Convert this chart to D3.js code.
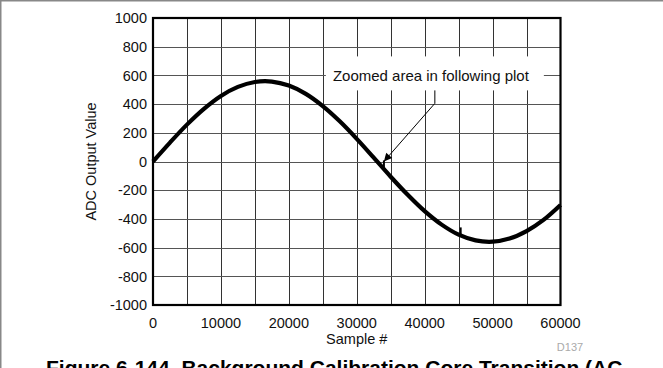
<!DOCTYPE html>
<html>
<head>
<meta charset="utf-8">
<script src="https://cdn.jsdelivr.net/npm/d3@7"></script>
<style>
  body { margin: 0; background: #fff; }
  svg { display: block; font-family: "Liberation Sans", Arial, Helvetica, sans-serif; }
</style>
</head>
<body>
<svg id="chart" width="663" height="368"></svg>
<script>
// samples, every 2500 samples
var sampleX = [0, 2500, 5000, 7500, 10000, 12500, 15000, 17500, 20000, 22500, 25000, 27500,
  30000, 32500, 35000, 37500, 40000, 42500, 45000, 47500, 50000, 52500, 55000, 57500, 60000];
var adcValue = [0, 132, 257, 367, 457, 520, 554, 557, 529, 471, 386, 280,
  158, 27, -106, -232, -346, -440, -510, -550, -559, -537, -485, -407, -303];

var xTicks = [0, 10000, 20000, 30000, 40000, 50000, 60000];
var yTicks = [-1000, -800, -600, -400, -200, 0, 200, 400, 600, 800, 1000];
var xGrid = [5000, 10000, 15000, 20000, 25000, 30000, 35000, 40000, 45000, 50000, 55000];
var yGrid = [-800, -600, -400, -200, 0, 200, 400, 600, 800];

// small markers on the trace showing the zoomed range
var zoomMarkX = [34000, 45300];
var zoomMarkY = [-55, -522];

// annotation anchor points (data units)
var noteText = 'Zoomed area in following plot';
var notePos = [41500, 600];
var noteElbow = [41500, 405];
var noteTip = [34000, 0];

var svg = d3.select('#chart');
var margin = { top: 18, right: 102.5, bottom: 63, left: 153 };
var width = 663 - margin.left - margin.right;
var height = 368 - margin.top - margin.bottom;

// page border (top and left only)
svg.append('line').attr('x1', 0).attr('x2', 663).attr('y1', 0.75).attr('y2', 0.75)
  .attr('stroke', '#888').attr('stroke-width', 1.5);
svg.append('line').attr('x1', 0.75).attr('x2', 0.75).attr('y1', 0).attr('y2', 368)
  .attr('stroke', '#888').attr('stroke-width', 1.5);

var x = d3.scaleLinear().domain([0, 60000]).range([0, width]);
var y = d3.scaleLinear().domain([-1000, 1000]).range([height, 0]);

var g = svg.append('g')
  .attr('transform', 'translate(' + margin.left + ',' + margin.top + ')');

// grid
g.selectAll('.vgrid').data(xGrid).enter().append('line')
  .attr('class', 'vgrid')
  .attr('x1', function(d) { return Math.round(x(d)) + 0.5; })
  .attr('x2', function(d) { return Math.round(x(d)) + 0.5; })
  .attr('y1', 0).attr('y2', height)
  .attr('stroke', '#333').attr('stroke-width', 1);

g.selectAll('.hgrid').data(yGrid).enter().append('line')
  .attr('class', 'hgrid')
  .attr('x1', 0).attr('x2', width)
  .attr('y1', function(d) { return Math.round(y(d)) + 0.5; })
  .attr('y2', function(d) { return Math.round(y(d)) + 0.5; })
  .attr('stroke', '#555').attr('stroke-width', 1);

// annotation box hides the grid behind the label
var nx = x(notePos[0]), ny = y(notePos[1]);
g.append('rect')
  .attr('x', nx - 109).attr('y', ny - 19)
  .attr('width', 218).attr('height', 34)
  .attr('fill', '#fff');
g.append('text')
  .attr('x', nx - 4).attr('y', ny)
  .attr('dy', '0.36em')
  .attr('text-anchor', 'middle')
  .attr('font-size', 15)
  .attr('fill', '#111')
  .text(noteText);

// trace
var line = d3.line()
  .x(function(d, i) { return x(sampleX[i]); })
  .y(function(d) { return y(d); })
  .curve(d3.curveCatmullRom);

g.append('path')
  .datum(adcValue)
  .attr('d', line)
  .attr('fill', 'none')
  .attr('stroke', '#000')
  .attr('stroke-width', 4.2)
  .attr('stroke-linecap', 'butt');

// zoom range markers
g.selectAll('.zmark').data(zoomMarkX).enter().append('line')
  .attr('class', 'zmark')
  .attr('x1', function(d) { return x(d); })
  .attr('x2', function(d) { return x(d); })
  .attr('y1', function(d, i) { return y(zoomMarkY[i]); })
  .attr('y2', function(d, i) { return y(zoomMarkY[i]) - 9; })
  .attr('stroke', '#000').attr('stroke-width', 2);

// leader line with arrow
svg.append('defs').append('marker')
  .attr('id', 'arrow')
  .attr('viewBox', '0 0 10 10')
  .attr('refX', 10).attr('refY', 5)
  .attr('markerWidth', 10).attr('markerHeight', 8)
  .attr('markerUnits', 'userSpaceOnUse')
  .attr('orient', 'auto')
  .append('path')
  .attr('d', 'M0,0L10,5L0,10z')
  .attr('fill', '#000');

g.append('path')
  .attr('d', 'M' + x(noteElbow[0]) + ',' + (ny + 15) +
    'L' + x(noteElbow[0]) + ',' + y(noteElbow[1]) +
    'L' + x(noteTip[0]) + ',' + y(noteTip[1]))
  .attr('fill', 'none')
  .attr('stroke', '#000')
  .attr('stroke-width', 1)
  .attr('marker-end', 'url(#arrow)');

// frame
g.append('rect')
  .attr('x', 0).attr('y', 0)
  .attr('width', width).attr('height', height)
  .attr('fill', 'none')
  .attr('stroke', '#000')
  .attr('stroke-width', 2.2);

// tick labels
g.selectAll('.ylab').data(yTicks).enter().append('text')
  .attr('class', 'ylab')
  .attr('x', -6)
  .attr('y', function(d) { return y(d); })
  .attr('dy', '0.36em')
  .attr('text-anchor', 'end')
  .attr('font-size', 14.5)
  .attr('fill', '#111')
  .text(function(d) { return d; });

g.selectAll('.xlab').data(xTicks).enter().append('text')
  .attr('class', 'xlab')
  .attr('x', function(d) { return x(d); })
  .attr('y', height + 23)
  .attr('text-anchor', 'middle')
  .attr('font-size', 14.5)
  .attr('fill', '#111')
  .text(function(d) { return d; });

// axis titles
g.append('text')
  .attr('x', width / 2).attr('y', height + 39)
  .attr('text-anchor', 'middle')
  .attr('font-size', 14.5)
  .attr('fill', '#111')
  .text('Sample #');

svg.append('text')
  .attr('transform', 'translate(95.5,' + (margin.top + height / 2) + ') rotate(-90)')
  .attr('text-anchor', 'middle')
  .attr('font-size', 14.5)
  .attr('fill', '#111')
  .text('ADC Output Value');

svg.append('text')
  .attr('x', 570).attr('y', 351)
  .attr('text-anchor', 'middle')
  .attr('font-size', 11)
  .attr('fill', '#aaa')
  .text('D137');

// caption, cut off by the bottom edge as in the source figure
svg.append('text')
  .attr('x', 46).attr('y', 375)
  .attr('font-size', 21)
  .attr('font-weight', 'bold')
  .attr('fill', '#000')
  .text('Figure 6-144. Background Calibration Core Transition (AC');
</script>
</body>
</html>
